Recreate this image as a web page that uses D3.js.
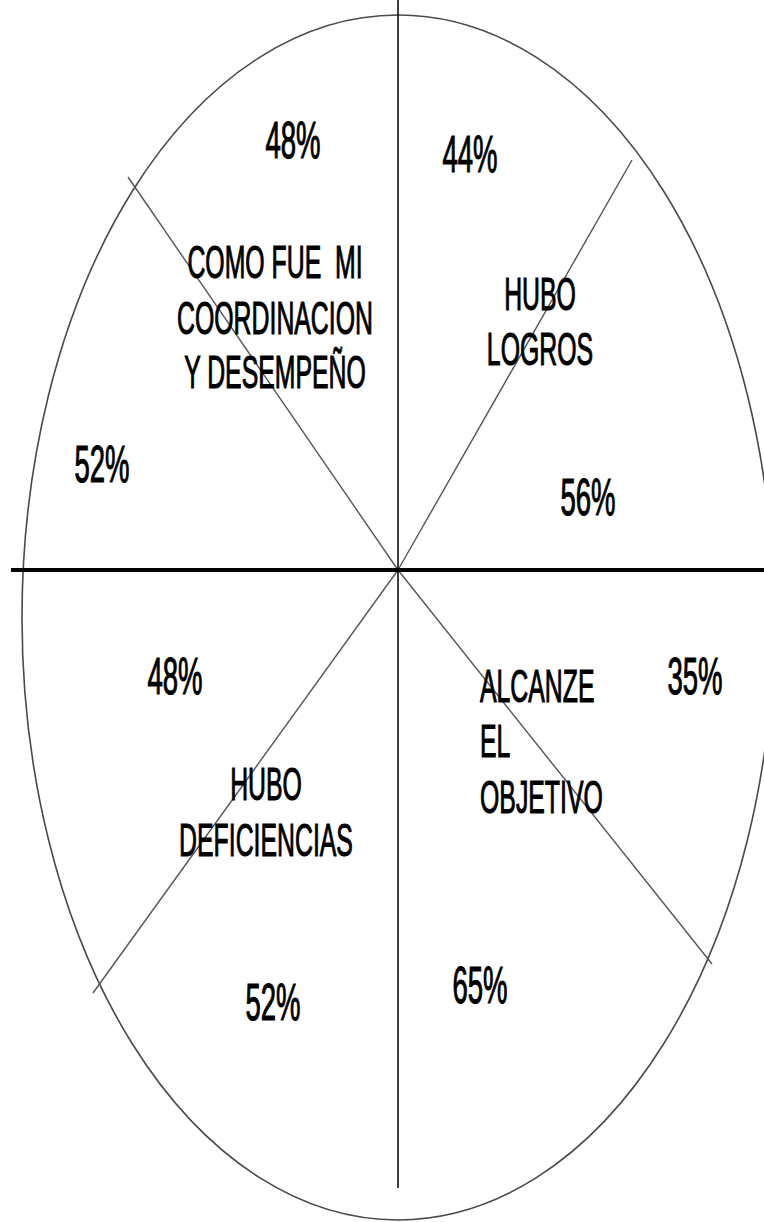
<!DOCTYPE html>
<html>
<head>
<meta charset="utf-8">
<script src="https://cdn.jsdelivr.net/npm/d3@7"></script>
<style>
  html, body { margin: 0; padding: 0; background: #fff; }
  svg { display: block; }
  text { font-family: "Liberation Sans", Arial, sans-serif; fill: #000; stroke: #000; stroke-width: 1.1; white-space: pre; }
</style>
</head>
<body>
<div id="chart"></div>
<script>
// ---- data ----
const categories = [
  ["COMO FUE  MI", "COORDINACION", "Y DESEMPEÑO"],
  ["HUBO", "LOGROS"],
  ["ALCANZE", "EL", "OBJETIVO"],
  ["HUBO", "DEFICIENCIAS"]
];
const firstValues  = [48, 44, 35, 48];
const secondValues = [52, 56, 65, 52];
const valueLabels = v => v + "%";

// ---- layout (positions / styles) ----
const W = 764, H = 1222;
const svg = d3.select("#chart").append("svg").attr("width", W).attr("height", H);

// unit coordinate system: (-1..1) mapped onto the ellipse box
const x = d3.scaleLinear().domain([-1, 1]).range([22, 774]);
const y = d3.scaleLinear().domain([-1, 1]).range([15, 1220]);
const center = { x: 398, y: 570 };

// ellipse
svg.append("ellipse")
  .attr("cx", x(0) ).attr("cy", y(0))
  .attr("rx", (x(1) - x(-1)) / 2).attr("ry", (y(1) - y(-1)) / 2)
  .attr("fill", "none").attr("stroke", "#4a4a4a").attr("stroke-width", 1.6);

// diagonal spokes from center to the rim
const spokeEnds = [[128, 177], [632, 160], [712, 964], [93, 993]];
svg.selectAll("line.spoke").data(spokeEnds).enter().append("line")
  .attr("class", "spoke")
  .attr("x1", center.x).attr("y1", center.y)
  .attr("x2", d => d[0]).attr("y2", d => d[1])
  .attr("stroke", "#555").attr("stroke-width", 1.4);

// vertical axis
svg.append("line").attr("x1", center.x).attr("x2", center.x)
  .attr("y1", 0).attr("y2", 1188).attr("stroke", "#000").attr("stroke-width", 1.5);
// horizontal axis
svg.append("line").attr("x1", 11).attr("x2", W)
  .attr("y1", center.y).attr("y2", center.y).attr("stroke", "#000").attr("stroke-width", 4);

// text helpers
function drawText(tx, ty, str, size, anchor) {
  svg.append("text")
    .attr("transform", `translate(${tx},${ty}) scale(0.54,1)`)
    .attr("text-anchor", anchor || "middle")
    .attr("font-size", size)
    .text(str);
}

// category label layout
const labelLayout = [
  { x: 275, ys: [278, 334, 388], anchor: "middle" },
  { x: 540, ys: [310, 365], anchor: "middle" },
  { x: 480, ys: [702, 757, 813], anchor: "start" },
  { x: 266, ys: [800, 856], anchor: "middle" }
];
categories.forEach((lines, i) => {
  const L = labelLayout[i];
  lines.forEach((s, j) => drawText(L.x, L.ys[j], s, 46, L.anchor));
});

// value label layout
const firstPos  = [[293, 158], [470, 172], [695, 694], [175, 694]];
const secondPos = [[102, 482], [588, 515], [480, 1003], [273, 1020]];
firstValues.forEach((v, i) => drawText(firstPos[i][0], firstPos[i][1], valueLabels(v), 51));
secondValues.forEach((v, i) => drawText(secondPos[i][0], secondPos[i][1], valueLabels(v), 51));
</script>
</body>
</html>
